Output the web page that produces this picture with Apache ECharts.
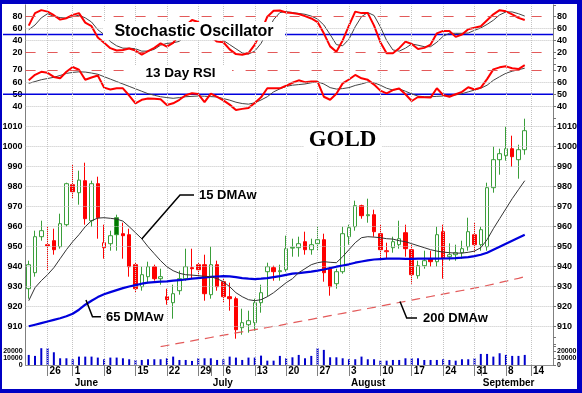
<!DOCTYPE html>
<html><head><meta charset="utf-8">
<script src="https://cdn.jsdelivr.net/npm/echarts@6/dist/echarts.min.js"></script>
<style>html,body{margin:0;padding:0;background:#fff}#c{width:582px;height:393px}</style>
</head><body><div id="c"></div>
<script>
// ---------- DATA ----------
const dates = ['2009-05-20','2009-05-21','2009-05-22','2009-05-26','2009-05-27','2009-05-28','2009-05-29',
'2009-06-01','2009-06-02','2009-06-03','2009-06-04','2009-06-05','2009-06-08','2009-06-09','2009-06-10','2009-06-11','2009-06-12',
'2009-06-15','2009-06-16','2009-06-17','2009-06-18','2009-06-19','2009-06-22','2009-06-23','2009-06-24','2009-06-25','2009-06-26',
'2009-06-29','2009-06-30','2009-07-01','2009-07-02','2009-07-06','2009-07-07','2009-07-08','2009-07-09','2009-07-10',
'2009-07-13','2009-07-14','2009-07-15','2009-07-16','2009-07-17','2009-07-20','2009-07-21','2009-07-22','2009-07-23','2009-07-24',
'2009-07-27','2009-07-28','2009-07-29','2009-07-30','2009-07-31','2009-08-03','2009-08-04','2009-08-05','2009-08-06','2009-08-07',
'2009-08-10','2009-08-11','2009-08-12','2009-08-13','2009-08-14','2009-08-17','2009-08-18','2009-08-19','2009-08-20','2009-08-21',
'2009-08-24','2009-08-25','2009-08-26','2009-08-27','2009-08-28','2009-08-31','2009-09-01','2009-09-02','2009-09-03','2009-09-04',
'2009-09-08','2009-09-09','2009-09-10','2009-09-11','2009-09-14','2009-09-15','2009-09-16','2009-09-17'];
const monthNames = ['January','February','March','April','May','June','July','August','September','October','November','December'];

const open = [929,937,955,951,953,950,961,981,977,983,
963,981.5,949.5,951.5,964.5,956.5,956,941,930,935,
940,934,925,922,928,934,939.5,941,941,926,
941,932.5,925,924,909.5,911,912,922,937.5,939.5,
937.5,938.5,949.3,949.5,952.5,948.5,951.5,953.5,939,931.5,
937.5,955,960,970.5,965.5,966,956.5,947.5,949.5,951,
957,948.5,935.5,940.5,944,942.5,957.5,945,946,947,
950,956,951,950,979.5,993.5,995.5,999,993.5,998.5];
const close = [941,955,958,950.5,948.5,961.5,981.5,977.5,983.3,964,
981.5,964.5,952,955.5,956,955.5,940,929,936,940,
934,935,923.5,926.5,934,940,939,938.5,926.5,941,
930,925,924,908.5,912,913,922,927,940,937.5,
938,949,949.7,951.5,948.5,951,953.5,937,930,937.5,
956.5,959.5,970.5,965.5,966,957.5,948.5,948,952.5,954,
949,936,940.5,943,942.5,956,944,946,947,949,
957.5,951,958.5,979.5,993.5,996.5,999,995,998.5,1008];
const low = [924,935,953,938,946,949,960,974,971,961,
960,954,944,948,948,944,935,927,928,932,
933,931,921,914,926,933,934,934,923,924,
928,922,918,904,906,907,908,917,925,933,
933,937.5,945,945,946,946,948,932.5,925.5,929,
936.5,951,958,964,962,955,943,944,947,949,
945,931.5,934,939,940,940,934,943,943,944,
948,947,948,948,977,986,993,990,984,996];
const high = [943,958,963,960,959,966.5,982,991,988,992,
983,985,961,958,966,962,959,942,940,942.5,
941,939,929,931,938,949,949,942,946,950,
943,934,932,925,919,918,924,931,942,940.5,
941,955.5,954,955,957.5,954,960,956.5,940,939,
960,961,973,971,974,968.5,961,952,955,963,
961,951,943,948,948,960,961,951.7,951,953,
964.5,962,960,982,1000,999,1010,1005.5,1001,1014];
const volume = [14400,13000,24000,24000,18200,9600,9600,8200,12000,12000,
12000,10600,8200,10600,10600,9600,8200,7200,7200,8200,
8200,8200,9600,12000,7200,7200,5800,9600,9600,9600,
7200,8200,12000,10600,7200,10600,10600,13400,6200,6200,
13000,9600,11000,14400,9600,13000,24000,21600,11000,11000,
9600,8200,8200,12000,8200,8200,6200,6200,7200,7200,
9600,9600,9600,7200,7200,7200,8200,7200,6200,8200,
8200,9600,15800,15800,12000,16800,14400,13000,13000,14400];
const ma15 = [923,929.5,933,936,939.5,944,948.5,952.5,956,960,
963,964.3,964.5,964.2,963.8,962.8,960,957,954,950,
946.5,943,940,938,936.7,936,935.8,935.5,935.2,935,
934,932.5,930,927,925,923.5,923,923.5,925,927,
929.5,932,934,937,939,941,942,942.5,942.2,942,
945,948.5,952,954.5,955,954.8,954.5,954,953.8,953,
952.5,951.5,950.5,949.5,948.5,947.8,947.3,947,946.8,946.8,
947.2,947.8,949.5,953.5,959,964,969,974,978.5,983];
const ma65 = [910.2,911,911.8,912.6,913.4,914.2,915.2,916.5,918.5,921,
923,924.8,926.2,927.3,928.3,929.3,930.1,930.8,931.5,932,
932.3,932.5,932.7,933,933.3,933.6,934,934.3,934.6,934.9,
935.1,935.3,935.2,934.8,934.3,934,933.8,934,934.3,934.8,
935.3,935.9,936.5,936.8,937.2,937.5,938,938.6,939.3,940,
940.6,941.2,942,942.6,943.2,943.6,943.8,944,944,944,
943.9,943.9,944,944,944,944,944.1,944.2,944.3,944.5,
944.8,945.3,946,947,948.5,950,951.5,953,954.5,956];
const ma200 = [null,null,null,null,null,null,null,null,null,null,
null,null,null,null,null,null,null,null,null,null,null,
900.0,900.6,901.2,901.8,902.3,902.9,903.5,904.0,904.6,905.2,
905.8,906.3,906.9,907.4,908.0,908.5,909.1,909.6,910.2,910.7,
911.3,911.9,912.5,913.1,913.7,914.3,914.9,915.5,916.1,916.7,
917.3,917.9,918.5,919.1,919.7,920.3,920.9,921.5,922.1,922.7,
923.3,923.9,924.5,925.1,925.7,926.3,926.9,927.5,928.1,928.7,
929.3,929.9,930.6,931.3,932.0,932.8,933.5,934.2,935.0];
const stochK = [65,86,91,88.5,82.5,75,77.5,83,86,70,
64,45,36,27,23,24,26.5,23,16,22,
27.5,35,29.5,36,50,65,74.5,71,58,46,
38,37,25,17,16,18.5,33,55,80,90,
90.5,87,86,84.5,81,77,71,52,30,21,
40,65,88.5,86,86,65,37,18.5,18.5,27,
38,34,25.5,27.5,33,52,56,56,46,50,
59,61.5,64,74,84,91,89,84,78,74.5];
const stochD = [58,66,78,85,80.5,78.5,77.5,80,82.5,78,
71,58,50,38,31,27,27,26,22,22,
25,32,35,36,38.5,50,63,70,68,58,
47,40,33,26,19,17,22,35,55,75,
87,88.5,87,85.5,84,81,76,66,50,33,
31,42,63,80,87,82,63,40,24,22,
27,34,32,29.5,29.5,37,47,52,52,52,
52.5,57,61,67,74,83,88,88,85,81];
const rsi = [61.5,66,68.5,67.7,64.3,63.2,68.5,72.5,70.2,62,
63.8,65.5,55.5,54,54.9,54.9,49,42.6,45.5,46.5,
46.4,46,41.2,42.6,45.5,49.2,50.8,50.2,43.5,50.5,
47.8,45,41.5,37,38,38.8,42.8,47.5,55,54.9,
54.9,57,59.5,61.5,60,60.5,60.5,48,45.5,50.5,
59,62.2,65.9,63.2,61.9,58,53,50.8,53.5,54.8,
50,44.5,47.8,47.5,47.3,55,49.4,48,50,52,
55.8,54,55.5,62.5,70.5,72.2,73,71.5,70.8,74];
const rsiSignal = [59,60.5,62,63,64,65.5,67.2,68,68.5,68.3,
67.5,66.5,64.5,62.5,60.5,58.5,56.5,54.5,52.5,50.5,
49.2,48,47.3,46.7,47.3,48,48.3,48.6,48.4,48.1,
47.8,46.5,45.2,43.5,42.4,41.9,43,45.3,48,52,
54.5,56.5,57.5,58,58.5,59.5,60.3,58.5,55.5,54.3,
54.7,55.5,57.3,58.5,60,59.5,57.5,55,53.5,54.5,
52.5,50.3,48.5,48,48,48.3,48.6,49,49.5,50.5,
52,53.5,55,57.5,61.5,64.5,67.3,69,70.2,71.5];
const stochLabels = [20,40,60,80];
const rsiLabels = [40,50,60,70];
const priceLabels = [910,920,930,940,950,960,970,980,990,1000,1010];
const volLabels = [0,10000,20000];

// ---------- LAYOUT ----------
const W = 582, H = 393, GL = 25.6, GR = 29;
const F = "'Liberation Sans', Arial, sans-serif";
const GREEN = '#3a9e3a', GREEN_FILL = '#007a00', RED = '#ff0000';
const DASHRED = '#e35a5a', BLUE = '#0000dd', GRIDC = '#c4c4c4';

const wd = s => new Date(s + 'T00:00:00Z').getUTCDay();
const mo = s => new Date(s + 'T00:00:00Z').getUTCMonth();
const isWeekStart = i => i > 0 && wd(dates[i]) < wd(dates[i - 1]);
const isMonthStart = i => i > 0 && mo(dates[i]) !== mo(dates[i - 1]);
const weekIdx = dates.map((d, i) => i).filter(isWeekStart);

const candleData = open.map((o, i) => {
  const c = close[i];
  const prev = i > 0 ? close[i - 1] : o;
  const col = c >= prev ? GREEN : RED;
  const fill = c > o ? '#ffffff' : (c >= prev ? GREEN_FILL : RED);
  return { value: [o, c, low[i], high[i]], itemStyle: { color: fill, color0: fill, borderColor: col, borderColor0: col, borderWidth: 1 } };
});

const grids = [
  { left: GL, right: GR, top: 4.8, bottom: 28 },          // 0 background
  { left: GL, right: GR, top: 4.8, height: 59.4 },        // 1 stochastic
  { left: GL, right: GR, top: 57.85, height: 60.75 },     // 2 RSI
  { left: GL, right: GR, top: 106.7, height: 240 },       // 3 price
  { left: GL, right: GR, top: 337, height: 28 }           // 4 volume
].map(g => Object.assign({ outerBoundsMode: 'none', containLabel: false, show: false }, g));

const hiddenX = gi => ({ type: 'category', gridIndex: gi, data: dates, boundaryGap: true, show: false });

function yAx(gi, pos, min, max, interval, shown, fs) {
  return {
    type: 'value', gridIndex: gi, position: pos, min, max, interval,
    splitLine: { show: false },
    axisLine: { show: false },
    axisTick: { show: pos === 'right', length: 3, lineStyle: { color: '#777' } },
    axisLabel: {
      show: true, fontSize: fs || 9, fontWeight: 'bold', color: '#000', fontFamily: F,
      margin: pos === 'left' ? 3 : 4,
      formatter: v => shown.indexOf(v) >= 0 ? String(v) : ''
    }
  };
}

function guides(xi, yi, items) {
  return {
    type: 'line', xAxisIndex: xi, yAxisIndex: yi, data: [], z: 1, silent: true,
    markLine: { silent: true, symbol: 'none', animation: false, label: { show: false }, data: items }
  };
}
const dotted = v => ({ yAxis: v, lineStyle: { type: 'dotted', color: GRIDC, width: 1 } });
const dashed = v => ({ yAxis: v, lineStyle: { type: [10, 12], color: DASHRED, width: 1 } });

const option = {
  animation: false,
  backgroundColor: '#ffffff',
  textStyle: { fontFamily: F },
  grid: grids,
  xAxis: [
    {
      type: 'category', gridIndex: 0, data: dates, boundaryGap: true, position: 'bottom',
      axisLine: { show: true, lineStyle: { color: '#808080', width: 1 } },
      axisTick: { show: true, alignWithLabel: true, length: 11, interval: i => isWeekStart(i), lineStyle: { color: '#808080' } },
      axisLabel: { show: true, interval: i => isWeekStart(i), formatter: v => String(new Date(v + 'T00:00:00Z').getUTCDate()),
        align: 'left', padding: [0, 0, 0, 2], margin: 1, fontSize: 10, fontWeight: 'bold', color: '#000', fontFamily: F },
      splitLine: { show: false }
    },
    {
      type: 'category', gridIndex: 0, data: dates, boundaryGap: true, position: 'bottom', offset: 12,
      axisLine: { show: true, lineStyle: { color: '#909090', width: 1 } },
      axisTick: { show: true, alignWithLabel: true, length: 11, interval: i => isMonthStart(i), lineStyle: { color: '#808080' } },
      axisLabel: { show: true, interval: i => isMonthStart(i), formatter: v => monthNames[new Date(v + 'T00:00:00Z').getUTCMonth()],
        align: 'left', padding: [0, 0, 0, 2], margin: 1, fontSize: 10, fontWeight: 'bold', color: '#000', fontFamily: F },
      splitLine: { show: false }
    },
    hiddenX(1), hiddenX(2), hiddenX(3), hiddenX(4)
  ],
  yAxis: [
    { type: 'value', gridIndex: 0, position: 'left', min: 0, max: 1, axisLabel: { show: false }, axisTick: { show: false }, splitLine: { show: false }, axisLine: { show: true, lineStyle: { color: '#808080' } } },
    { type: 'value', gridIndex: 0, position: 'right', min: 0, max: 1, axisLabel: { show: false }, axisTick: { show: false }, splitLine: { show: false }, axisLine: { show: true, lineStyle: { color: '#808080' } } },
    yAx(1, 'left', 0, 100, 20, stochLabels), yAx(1, 'right', 0, 100, 20, stochLabels),
    yAx(2, 'left', 30, 80, 10, rsiLabels), yAx(2, 'right', 30, 80, 10, rsiLabels),
    yAx(3, 'left', 900, 1020, 10, priceLabels), yAx(3, 'right', 900, 1020, 10, priceLabels),
    yAx(4, 'left', 0, 40000, 10000, volLabels, 7), yAx(4, 'right', 0, 40000, 10000, volLabels, 7)
  ],
  series: [
    {
      type: 'line', xAxisIndex: 0, yAxisIndex: 0, data: [], z: 1, silent: true,
      markLine: { silent: true, symbol: 'none', animation: false, label: { show: false },
        lineStyle: { type: 'dotted', color: GRIDC, width: 1 },
        data: weekIdx.map(i => ({ xAxis: dates[i] })) }
    },
    guides(2, 2, [dotted(40), dotted(60), dashed(20), dashed(80)]),
    guides(3, 4, [dotted(40), dotted(60), dashed(70)]),
    guides(4, 6, priceLabels.map(dotted)),
    { name: '%K', type: 'line', xAxisIndex: 2, yAxisIndex: 2, data: stochK, symbol: 'none', z: 4, lineStyle: { color: RED, width: 2 } },
    { name: '%D', type: 'line', xAxisIndex: 2, yAxisIndex: 2, data: stochD, symbol: 'none', z: 3, lineStyle: { color: '#444', width: 1 } },
    { name: 'RSI', type: 'line', xAxisIndex: 3, yAxisIndex: 4, data: rsi, symbol: 'none', z: 4, lineStyle: { color: RED, width: 2 } },
    { name: 'RSI avg', type: 'line', xAxisIndex: 3, yAxisIndex: 4, data: rsiSignal, symbol: 'none', z: 3, lineStyle: { color: '#444', width: 1 } },
    { name: 'GOLD', type: 'candlestick', xAxisIndex: 4, yAxisIndex: 6, data: candleData, barWidth: 4, z: 3 },
    { name: '200 DMAw', type: 'line', xAxisIndex: 4, yAxisIndex: 6, data: ma200, symbol: 'none', z: 4, lineStyle: { color: DASHRED, width: 1.2, type: [9, 6] } },
    { name: '65 DMAw', type: 'line', xAxisIndex: 4, yAxisIndex: 6, data: ma65, symbol: 'none', z: 5, lineStyle: { color: BLUE, width: 2.2 } },
    { name: '15 DMAw', type: 'line', xAxisIndex: 4, yAxisIndex: 6, data: ma15, symbol: 'none', z: 5, lineStyle: { color: '#333', width: 1 } },
    { name: 'Volume', type: 'bar', xAxisIndex: 5, yAxisIndex: 8, data: volume, barWidth: 2, itemStyle: { color: '#0000cc' }, z: 3 }
  ]
};

const chart = echarts.init(document.getElementById('c'), null, { renderer: 'canvas', width: W, height: H });
chart.setOption(option);

const yS50 = chart.convertToPixel({ yAxisIndex: 2 }, 50);
const yR50 = chart.convertToPixel({ yAxisIndex: 4 }, 50);
const xR = W - GR;
function txt(text, x, y, font, align) {
  return { type: 'text', z: 101, silent: true,
    style: { text, x, y, font, fill: '#000', align: align || 'left', verticalAlign: 'middle', textAlign: align || 'left', textVerticalAlign: 'middle' } };
}
function box(x, y, w, h) {
  return { type: 'rect', z: 100, silent: true, shape: { x, y, width: w, height: h }, style: { fill: '#ffffff' } };
}
function leader(pts) {
  return { type: 'polyline', z: 102, silent: true, shape: { points: pts }, style: { stroke: '#000', lineWidth: 1.5, fill: null } };
}
chart.setOption({
  graphic: [
    { type: 'line', z: 2, silent: true, shape: { x1: 3, y1: yS50, x2: xR, y2: yS50 }, style: { stroke: BLUE, lineWidth: 1.5 } },
    { type: 'line', z: 2, silent: true, shape: { x1: 3, y1: yR50, x2: xR, y2: yR50 }, style: { stroke: BLUE, lineWidth: 1.5 } },
    box(103, 22, 182, 18),
    txt('Stochastic Oscillator', 194, 31.5, "bold 16px 'Liberation Sans', Arial", 'center'),
    box(128, 65, 104, 16),
    txt('13 Day RSI', 180.5, 73.5, "bold 13.5px 'Liberation Sans', Arial", 'center'),
    box(304, 128, 78, 24),
    txt('GOLD', 342.5, 140.5, "bold 23px 'Liberation Serif', 'Times New Roman', serif", 'center'),
    leader([[141.7, 239], [180, 195], [194, 195]]),
    txt('15 DMAw', 199, 195.5, "bold 13px 'Liberation Sans', Arial"),
    leader([[86, 300], [92.5, 316.7], [101, 316.7]]),
    txt('65 DMAw', 106, 317, "bold 13px 'Liberation Sans', Arial"),
    leader([[400, 301.5], [406.7, 318], [417, 318]]),
    txt('200 DMAw', 423, 318, "bold 13px 'Liberation Sans', Arial"),
    { type: 'rect', z: 200, silent: true, shape: { x: 0, y: 0, width: W, height: 4 }, style: { fill: '#0000c4' } },
    { type: 'rect', z: 200, silent: true, shape: { x: 0, y: 0, width: 2, height: H }, style: { fill: '#0000c4' } },
    { type: 'rect', z: 200, silent: true, shape: { x: W - 5, y: 0, width: 5, height: H }, style: { fill: '#0000c4' } },
    { type: 'rect', z: 200, silent: true, shape: { x: 0, y: H - 4, width: W, height: 4 }, style: { fill: '#0000c4' } }
  ]
});
</script>
</body></html>
